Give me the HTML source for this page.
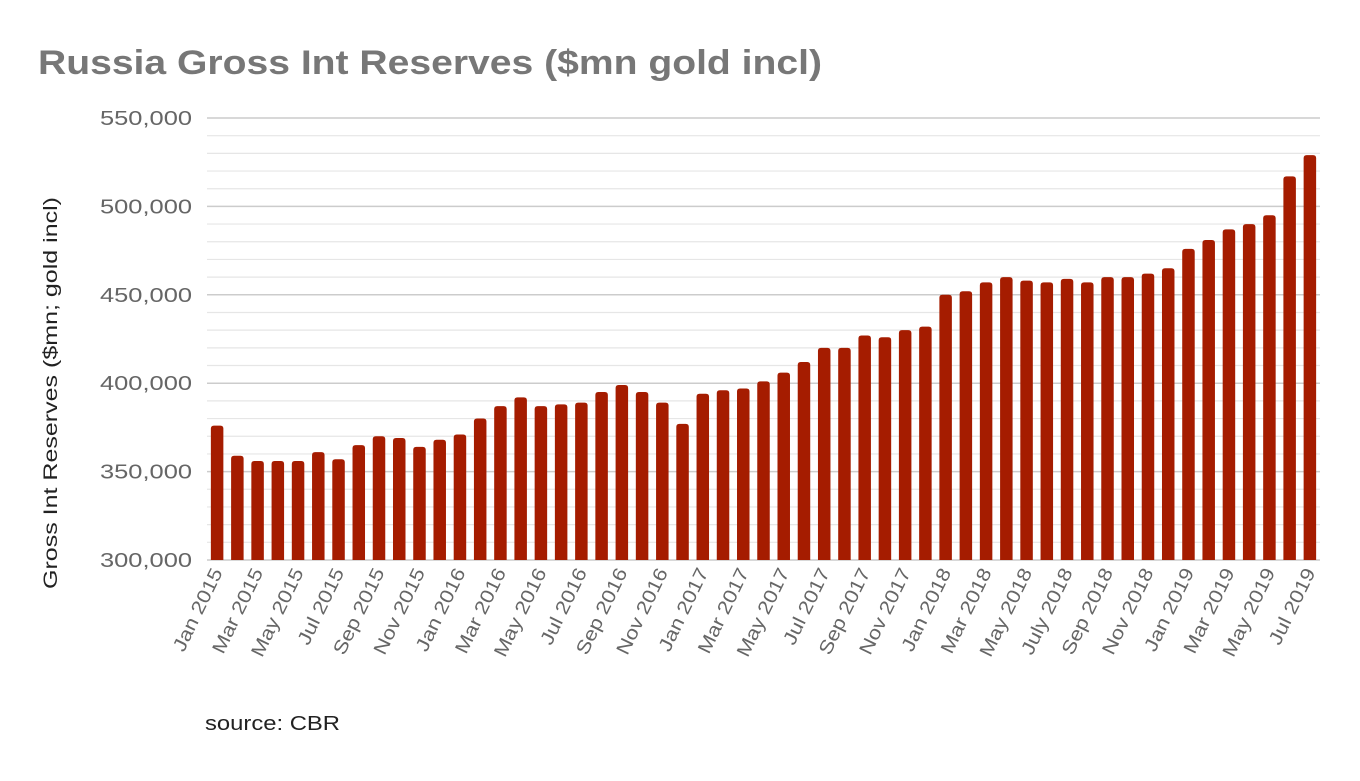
<!DOCTYPE html>
<html><head><meta charset="utf-8"><style>
body{margin:0;background:#fff;font-family:"Liberation Sans",sans-serif}
</style></head><body>
<svg width="1360" height="776" xmlns="http://www.w3.org/2000/svg">
<text x="38" y="74" font-size="34" font-weight="bold" fill="#777" textLength="784" lengthAdjust="spacingAndGlyphs">Russia Gross Int Reserves ($mn gold incl)</text>
<g id="grid"></g><g id="yticks"></g><g id="bars"></g><g id="xlabels"></g>
<text transform="translate(57,393) rotate(-90)" text-anchor="middle" font-size="19" fill="#222" textLength="392" lengthAdjust="spacingAndGlyphs">Gross Int Reserves ($mn; gold incl)</text>
<text x="205" y="730" font-size="20" fill="#222" textLength="135" lengthAdjust="spacingAndGlyphs">source: CBR</text>
</svg>
<script>
const categories=["Jan 2015","Feb 2015","Mar 2015","Apr 2015","May 2015","Jun 2015","Jul 2015","Aug 2015","Sep 2015","Oct 2015","Nov 2015","Dec 2015","Jan 2016","Feb 2016","Mar 2016","Apr 2016","May 2016","Jun 2016","Jul 2016","Aug 2016","Sep 2016","Oct 2016","Nov 2016","Dec 2016","Jan 2017","Feb 2017","Mar 2017","Apr 2017","May 2017","Jun 2017","Jul 2017","Aug 2017","Sep 2017","Oct 2017","Nov 2017","Dec 2017","Jan 2018","Feb 2018","Mar 2018","Apr 2018","May 2018","Jun 2018","July 2018","Aug 2018","Sep 2018","Oct 2018","Nov 2018","Dec 2018","Jan 2019","Feb 2019","Mar 2019","Apr 2019","May 2019","Jun 2019","Jul 2019"];
const values=[376,359,356,356,356,361,357,365,370,369,364,368,371,380,387,392,387,388,389,395,399,395,389,377,394,396,397,401,406,412,420,420,427,426,430,432,450,452,457,460,458,457,459,457,460,460,462,465,476,481,487,490,495,517,529].map(v=>v*1000);
const yTicks=[300000,350000,400000,450000,500000,550000];
const yTickLabels=["300,000","350,000","400,000","450,000","500,000","550,000"];
const NS="http://www.w3.org/2000/svg";
const y0=560,y1=118,vmin=300000,vmax=550000,xl=207,xr=1320;
const Y=v=>y0-(v-vmin)/(vmax-vmin)*(y0-y1);
const step=(xr-xl)/categories.length;
const X=i=>xl+step*(i+0.5);
function mk(t,a,p){const e=document.createElementNS(NS,t);for(const k in a)e.setAttribute(k,a[k]);p.appendChild(e);return e;}
const grid=document.getElementById('grid');
for(let v=vmin;v<=vmax;v+=10000){
 const major=v%50000===0;
 const l=mk('line',{x1:xl,x2:xr,y1:Y(v),y2:Y(v),stroke:major?'#ccc':'#e6e6e6','stroke-width':major?1.5:1.2},grid);
 
 
}
const yt=document.getElementById('yticks');
yTicks.forEach((v,i)=>{const t=mk('text',{x:192,y:Y(v)+7,'text-anchor':'end','font-size':20,fill:'#666',textLength:92,lengthAdjust:'spacingAndGlyphs'},yt);t.textContent=yTickLabels[i];
 
 });
const bars=document.getElementById('bars');
values.forEach((v,i)=>{const w=12.5,x=X(i)-w/2,top=Y(v),r=3;
 const p=mk('path',{d:`M${x},${y0}V${top+r}Q${x},${top} ${x+r},${top}H${x+w-r}Q${x+w},${top} ${x+w},${top+r}V${y0}Z`,fill:'#a51c00'},bars);
 
 });
const xlab=document.getElementById('xlabels');
categories.forEach((c,i)=>{if(i%2)return;const x=X(i)+6,y=572;
 const t=mk('text',{x:x,y:y,'text-anchor':'end','font-size':19,fill:'#666',transform:`rotate(-64 ${x} ${y})`},xlab);t.textContent=c;
 
 
 const L=t.getComputedTextLength();t.setAttribute('textLength',L*1.15);t.setAttribute('lengthAdjust','spacingAndGlyphs');});
</script>
</body></html>
